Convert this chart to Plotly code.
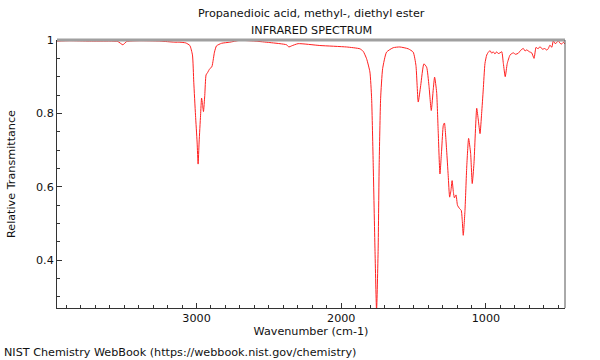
import plotly.graph_objects as go

title_line1 = "Propanedioic acid, methyl-, diethyl ester"
title_line2 = "INFRARED SPECTRUM"
x_label = "Wavenumber (cm-1)"
y_label = "Relative Transmittance"
footer = "NIST Chemistry WebBook (https://webbook.nist.gov/chemistry)"

x_ticks = [3000, 2000, 1000]
x_tick_labels = ["3000", "2000", "1000"]
y_ticks = [0.4, 0.6, 0.8, 1.0]
y_tick_labels = ["0.4", "0.6", "0.8", "1"]

wavenumber = [
    3964, 3876, 3738, 3599, 3544, 3509, 3482, 3392, 3254, 3150, 3115, 3074, 3046,
    3028, 3019, 3007, 2996, 2989, 2982, 2972, 2965, 2959, 2952, 2943, 2934, 2924,
    2908, 2894, 2885, 2876, 2862, 2827, 2770, 2701, 2597, 2493, 2378, 2362, 2343,
    2298, 2148, 1963, 1871, 1848, 1825, 1802, 1790, 1779, 1767, 1756, 1745, 1738,
    1728, 1714, 1687, 1641, 1595, 1537, 1503, 1484, 1468, 1451, 1429, 1410, 1394,
    1378, 1364, 1355, 1341, 1330, 1318, 1306, 1295, 1287, 1272, 1261, 1251, 1242,
    1234, 1225, 1218, 1207, 1197, 1183, 1171, 1164, 1157, 1145, 1133, 1120, 1106,
    1095, 1083, 1064, 1053, 1041, 1030, 1019, 1007, 995, 985, 972, 960, 950, 938,
    926, 915, 903, 891, 880, 867, 853, 834, 822, 811, 795, 777, 760, 742, 730, 719,
    700, 684, 668, 654, 640, 627, 610, 592, 580, 569, 558, 545, 535, 522, 511, 500,
    488, 477, 465, 454,
]
transmittance = [
    0.997, 0.998, 0.997, 0.997, 0.996, 0.987, 0.996, 0.998, 0.997, 0.994, 0.994,
    0.992, 0.985, 0.959, 0.885, 0.795, 0.722, 0.662, 0.722, 0.795, 0.842, 0.826,
    0.805, 0.849, 0.905, 0.911, 0.922, 0.927, 0.945, 0.967, 0.984, 0.991, 0.994,
    0.999, 0.997, 0.993, 0.987, 0.981, 0.984, 0.990, 0.985, 0.981, 0.976, 0.969,
    0.949, 0.913, 0.840, 0.659, 0.431, 0.262, 0.431, 0.659, 0.840, 0.922, 0.967,
    0.979, 0.981, 0.976, 0.967, 0.931, 0.831, 0.876, 0.935, 0.926, 0.876, 0.808,
    0.867, 0.899, 0.858, 0.749, 0.635, 0.703, 0.767, 0.774, 0.700, 0.631, 0.572,
    0.590, 0.617, 0.585, 0.570, 0.578, 0.550, 0.541, 0.536, 0.509, 0.468, 0.536,
    0.654, 0.732, 0.691, 0.609, 0.664, 0.814, 0.782, 0.745, 0.800, 0.864, 0.936,
    0.959, 0.966, 0.971, 0.964, 0.968, 0.962, 0.968, 0.963, 0.965, 0.968, 0.936,
    0.900, 0.936, 0.959, 0.963, 0.965, 0.961, 0.964, 0.972, 0.977, 0.970, 0.973,
    0.968, 0.965, 0.950, 0.980, 0.976, 0.982, 0.975, 0.977, 0.972, 0.977, 0.986,
    0.980, 0.998, 0.990, 0.993, 0.998, 0.991, 0.989, 0.994, 0.989,
]

fig = go.Figure()
fig.add_trace(go.Scatter(
    x=wavenumber, y=transmittance, mode="lines",
    line=dict(color="#ff2020", width=1, shape="spline", smoothing=0.5),
    showlegend=False, hoverinfo="skip",
))

font = dict(family="DejaVu Sans", size=11.2, color="#111111")

fig.update_layout(
    template="none",
    width=600, height=360,
    margin=dict(l=57, r=35, t=40, b=52),
    paper_bgcolor="white", plot_bgcolor="white",
    font=font,
    xaxis=dict(
        range=[3964, 454], showgrid=False, zeroline=False, automargin=False,
        tickvals=x_ticks, ticktext=x_tick_labels,
        ticks="inside", ticklen=5, tickcolor="#333333",
        showline=True, linecolor="#333333", linewidth=1,
        minor=dict(dtick=100, tick0=0, ticks="inside", ticklen=3, tickcolor="#333333"),
        title=dict(text=x_label, standoff=2, font=font),
        tickfont=font,
    ),
    yaxis=dict(
        range=[0.27, 1.0], showgrid=False, zeroline=False, automargin=False,
        tickvals=y_ticks, ticktext=y_tick_labels,
        ticks="inside", ticklen=5, tickcolor="#333333",
        showline=True, linecolor="#333333", linewidth=1,
        minor=dict(dtick=0.05, tick0=0, ticks="inside", ticklen=3, tickcolor="#333333"),
        title=dict(text=y_label, standoff=18, font=font),
        tickfont=font,
    ),
    annotations=[
        dict(text=title_line1, x=0.5, y=1, xref="paper", yref="paper",
             yshift=27, showarrow=False, yanchor="middle", font=font),
        dict(text=title_line2, x=0.5, y=1, xref="paper", yref="paper",
             yshift=10, showarrow=False, yanchor="middle", font=font),
        dict(text=footer, x=0, y=0, xref="paper", yref="paper",
             xshift=-55, yshift=-44, xanchor="left", yanchor="middle",
             showarrow=False, font=font),
    ],
    shapes=[
        dict(type="line", xref="paper", yref="paper", x0=0, x1=1, y0=1, y1=1,
             line=dict(color="#a0a0a0", width=3)),
        dict(type="line", xref="paper", yref="paper", x0=1, x1=1, y0=0, y1=1,
             line=dict(color="#555555", width=1)),
    ],
)

fig.write_html(
    "out.html",
    config={"displayModeBar": False},
    post_script="document.body.style.margin='0';document.body.style.overflow='hidden';",
)
